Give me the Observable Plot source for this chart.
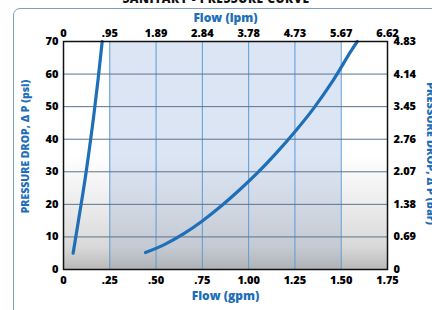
<!DOCTYPE html>
<html>
<head>
<meta charset="utf-8">
<script src="https://cdn.jsdelivr.net/npm/d3@7"></script>
<script src="https://cdn.jsdelivr.net/npm/@observablehq/plot@0.6"></script>
<style>
  html, body { margin: 0; padding: 0; background: #fff; width: 432px; height: 310px; overflow: hidden; }
  #wrap { position: relative; width: 432px; height: 310px; }
  #border { position: absolute; left: 13px; top: 8px; width: 460px; height: 330px; border: 1.5px solid #7f9fc2; border-radius: 7px; box-sizing: border-box; }
  #title { position: absolute; left: 0; width: 432px; top: -10px; text-align: center; font: 800 12px "Open Sans", sans-serif; color: #111; letter-spacing: 0.5px; }
  #chart { position: absolute; left: 0; top: 0; }
</style>
</head>
<body>
<div id="wrap">
  <div id="border"></div>
  <div id="title">SANITARY - PRESSURE CURVE</div>
  <div id="chart"></div>
</div>
<script>
// Tick values and labels
const xTicks = [0, 0.25, 0.5, 0.75, 1.0, 1.25, 1.5, 1.75];
const gpmLabels = ["0", ".25", ".50", ".75", "1.00", "1.25", "1.50", "1.75"];
const lpmLabels = ["0", ".95", "1.89", "2.84", "3.78", "4.73", "5.67", "6.62"];
const yTicks = [0, 10, 20, 30, 40, 50, 60, 70];
const psiLabels = ["0", "10", "20", "30", "40", "50", "60", "70"];
const barLabels = ["0", "0.69", "1.38", "2.07", "2.76", "3.45", "4.14", "4.83"];

// Shaded band (gpm)
const bandRange = [0.25, 1.5];

// Curve 1 (left, steep)
const leftGpm = [0.052, 0.075, 0.098, 0.120, 0.142, 0.163, 0.186, 0.209];
const leftPsi = [5, 13, 21, 29, 38, 47, 58, 70];
// Curve 2 (right)
const rightGpm = [0.443, 0.55, 0.65, 0.75, 0.85, 0.95, 1.05, 1.15, 1.25, 1.35, 1.45, 1.55, 1.587];
const rightPsi = [5.2, 7.8, 11.0, 14.9, 19.4, 24.4, 29.8, 35.8, 42.3, 49.4, 57.5, 66.8, 70];

const left = leftGpm.map((g, i) => ({gpm: g, psi: leftPsi[i]}));
const right = rightGpm.map((g, i) => ({gpm: g, psi: rightPsi[i]}));

const blue = "#1e6fb8";
const chart = Plot.plot({
  width: 432,
  height: 310,
  marginLeft: 63,
  marginRight: 45,
  marginTop: 41,
  marginBottom: 41,
  style: {fontFamily: "'Open Sans', sans-serif", fontSize: "11px", fontWeight: 800, background: "transparent", overflow: "visible", color: "#000"},
  x: {domain: [0, 1.75], axis: null},
  y: {domain: [0, 70], axis: null},
  marks: [
    Plot.frame({fill: "#ffffff"}),
    Plot.rect([bandRange], {x1: d => d[0], x2: d => d[1], fill: "#dbe5f4"}),
    Plot.frame({fill: "url(#grayGrad)"}),
    Plot.ruleX(xTicks.slice(1, -1), {stroke: "#5b9bd5", strokeWidth: 1}),
    Plot.ruleY(yTicks.slice(1, -1), {stroke: "#5c7388", strokeWidth: 1}),
    Plot.line(left, {x: "gpm", y: "psi", stroke: blue, strokeWidth: 3.2, curve: "catmull-rom"}),
    Plot.line(right, {x: "gpm", y: "psi", stroke: blue, strokeWidth: 3.2, curve: "catmull-rom"}),
    Plot.frame({stroke: "#111", strokeWidth: 1.5}),
    Plot.axisX(xTicks, {anchor: "bottom", tickSize: 0, tickPadding: 7, tickFormat: d => gpmLabels[xTicks.indexOf(d)], label: null}),
    Plot.axisX(xTicks, {anchor: "top", tickSize: 0, tickPadding: 5, tickFormat: d => lpmLabels[xTicks.indexOf(d)], label: null}),
    Plot.axisY(yTicks, {anchor: "left", tickSize: 0, tickPadding: 5, tickFormat: d => psiLabels[yTicks.indexOf(d)], label: null}),
    Plot.axisY(yTicks, {anchor: "right", tickSize: 0, tickPadding: 6, tickFormat: d => barLabels[yTicks.indexOf(d)], label: null}),
    Plot.text(["Flow (gpm)"], {frameAnchor: "bottom", dy: 30, fill: blue, fontSize: 12, fontWeight: 800}),
    Plot.text(["Flow (lpm)"], {frameAnchor: "top", dy: -28, fill: blue, fontSize: 12, fontWeight: 800}),
    Plot.text(["PRESSURE DROP, \u0394 P (psi)"], {frameAnchor: "left", textAnchor: "middle", lineAnchor: "middle", dx: -38, dy: -9, rotate: -90, fill: blue, fontSize: 10.5, fontWeight: 800}),
    Plot.text(["PRESSURE DROP, \u0394 P (bar)"], {frameAnchor: "right", textAnchor: "middle", lineAnchor: "middle", dx: 43, dy: -2, rotate: 90, fill: blue, fontSize: 11, fontWeight: 800})
  ]
});

// gradient definitions used by the frame overlay
const ns = "http://www.w3.org/2000/svg";
const defs = document.createElementNS(ns, "defs");
defs.innerHTML = `<linearGradient id="grayGrad" x1="0" y1="0" x2="0" y2="1">
  <stop offset="0" stop-color="#b4b4b4" stop-opacity="0"/>
  <stop offset="0.5" stop-color="#b4b4b4" stop-opacity="0"/>
  <stop offset="0.9" stop-color="#aaaaaa" stop-opacity="0.45"/>
  <stop offset="1" stop-color="#a0a0a0" stop-opacity="0.75"/>
</linearGradient>`;
chart.insertBefore(defs, chart.firstChild);
document.getElementById("chart").appendChild(chart);
</script>
</body>
</html>
